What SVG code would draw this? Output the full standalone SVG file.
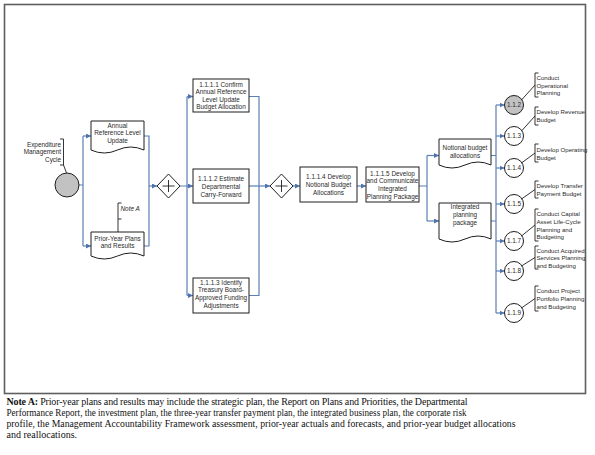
<svg xmlns="http://www.w3.org/2000/svg" width="595" height="455" viewBox="0 0 595 455">
<defs>
<marker id="ah" markerUnits="userSpaceOnUse" markerWidth="6" markerHeight="6" refX="5" refY="2.5" orient="auto">
<path d="M0,0 L5,2.5 L0,5 z" fill="#4f74ad"/>
</marker>
<style>
.t{font-family:"Liberation Sans",Arial,sans-serif;font-size:6.4px;fill:#2a2a2a;text-anchor:middle}
.te{font-family:"Liberation Sans",Arial,sans-serif;font-size:6.4px;fill:#2a2a2a;text-anchor:end}
.ts{font-family:"Liberation Sans",Arial,sans-serif;font-size:6.4px;fill:#2a2a2a;font-style:italic}
.a{font-family:"Liberation Sans",Arial,sans-serif;font-size:6.1px;fill:#2a2a2a}
.n{fill:#fff;stroke:#1e1e1e;stroke-width:1}
.g{fill:#c2c2c2;stroke:#1e1e1e;stroke-width:1}
.c{fill:none;stroke:#5a7fb5;stroke-width:1.2}
.ca{fill:none;stroke:#5a7fb5;stroke-width:1.2;marker-end:url(#ah)}
.b{fill:none;stroke:#1e1e1e;stroke-width:0.9}
.nt{font-family:"Liberation Serif","Times New Roman",serif;font-size:10px;fill:#111}
</style>
</defs>
<rect width="595" height="455" fill="#fff"/>
<rect x="4.5" y="4.5" width="581" height="389" fill="none" stroke="#5e5e5e" stroke-width="1.6"/>

<g id="connectors">
<path class="c" d="M79,185 H83 M83,136 V246"/>
<path class="ca" d="M83,136 H91"/>
<path class="ca" d="M83,246 H91"/>
<path class="c" d="M144,136 H149 V246 H144"/>
<path class="ca" d="M149,186 H157"/>
<path class="c" d="M180,186 H187 M187,96.5 V295.5"/>
<path class="ca" d="M187,96.5 H193"/>
<path class="ca" d="M187,186 H193"/>
<path class="ca" d="M187,295.5 H193"/>
<path class="c" d="M249,96.5 H259 V295.5 H249"/>
<path class="ca" d="M249,186 H270"/>
<path class="ca" d="M293,186 H300"/>
<path class="ca" d="M357,186 H366"/>
<path class="c" d="M419,186 H427 M427,155.5 V221"/>
<path class="ca" d="M427,155.5 H439"/>
<path class="ca" d="M427,221 H439"/>
<path class="c" d="M491,155.5 H496 M491,221 H496 M496,105 V313"/>
<path class="ca" d="M496,105 H504.5"/>
<path class="ca" d="M496,136 H504.5"/>
<path class="ca" d="M496,168 H504.5"/>
<path class="ca" d="M496,204 H504.5"/>
<path class="ca" d="M496,241 H504.5"/>
<path class="ca" d="M496,271 H504.5"/>
<path class="ca" d="M496,313 H504.5"/>
</g>

<g id="start">
<circle class="g" cx="67" cy="185" r="12"/>
<path class="b" d="M60,139 H63.5 V165 H60 M63.5,165 L66.5,173"/>
<text class="te" x="61" y="146.5">Expenditure</text>
<text class="te" x="61" y="154">Management</text>
<text class="te" x="61" y="161.5">Cycle</text>
</g>

<g id="annual">
<path class="n" d="M91,121 H144 V150 Q130.75,144 117.5,150 Q104.25,156 91,150 Z"/>
<text class="t" x="117.5" y="127.5">Annual</text>
<text class="t" x="117.5" y="135.3">Reference Level</text>
<text class="t" x="117.5" y="143">Update</text>
</g>

<g id="prior">
<path class="n" d="M91,232 H144 V256 Q130.75,250 117.5,256 Q104.25,262 91,256 Z"/>
<text class="t" x="117.5" y="240.5">Prior-Year Plans</text>
<text class="t" x="117.5" y="248">and Results</text>
</g>

<g id="noteA">
<path class="b" d="M121.5,203 H118 V219 H121.5 M118,219 V232"/>
<text class="ts" x="120.5" y="210.5">Note A</text>
</g>

<g id="gw1">
<path class="n" d="M157,186 L168.5,174 L180,186 L168.5,198 Z"/>
<path class="b" d="M162.5,186 H174.5 M168.5,180 V192"/>
</g>

<g id="t1111">
<rect class="n" x="193" y="79" width="56" height="33"/>
<text class="t" x="221" y="86.5">1.1.1.1 Confirm</text>
<text class="t" x="221" y="94">Annual Reference</text>
<text class="t" x="221" y="101.5">Level Update</text>
<text class="t" x="221" y="109">Budget Allocation</text>
</g>

<g id="t1112">
<rect class="n" x="193" y="169" width="56" height="34"/>
<text class="t" x="221" y="180.5">1.1.1.2 Estimate</text>
<text class="t" x="221" y="188.5">Departmental</text>
<text class="t" x="221" y="196.5">Carry-Forward</text>
</g>

<g id="t1113">
<rect class="n" x="193" y="278" width="56" height="35"/>
<text class="t" x="221" y="284.5">1.1.1.3 Identify</text>
<text class="t" x="221" y="292">Treasury Board-</text>
<text class="t" x="221" y="299.5">Approved Funding</text>
<text class="t" x="221" y="307.5">Adjustments</text>
</g>

<g id="gw2">
<path class="n" d="M270,186 L281.5,174 L293,186 L281.5,198 Z"/>
<path class="b" d="M275.5,186 H287.5 M281.5,180 V192"/>
</g>

<g id="t1114">
<rect class="n" x="300" y="167" width="57" height="35"/>
<text class="t" x="328.5" y="178.5">1.1.1.4 Develop</text>
<text class="t" x="328.5" y="186.5">Notional Budget</text>
<text class="t" x="328.5" y="194.5">Allocations</text>
</g>

<g id="t1115">
<rect class="n" x="366" y="167" width="53" height="35"/>
<text class="t" x="392.5" y="175.5">1.1.1.5 Develop</text>
<text class="t" x="392.5" y="183">and Communicate</text>
<text class="t" x="392.5" y="190.5">Integrated</text>
<text class="t" x="392.5" y="198.5">Planning Package</text>
</g>

<g id="notional">
<path class="n" d="M439,139 H491 V165 Q478,159 465,165 Q452,171 439,165 Z"/>
<text class="t" x="465" y="149.5">Notional budget</text>
<text class="t" x="465" y="157.5">allocations</text>
</g>

<g id="integrated">
<path class="n" d="M439,203 H491 V239 Q478,233 465,239 Q452,245 439,239 Z"/>
<text class="t" x="465" y="208.5">Integrated</text>
<text class="t" x="465" y="216.5">planning</text>
<text class="t" x="465" y="224.5">package</text>
</g>

<g id="p112">
<circle class="g" cx="514" cy="105" r="9.5"/>
<text class="t" x="514" y="107.3">1.1.2</text>
<path class="b" d="M538.5,73 H535 V97 H538.5 M535,85 L521.5,100"/>
<text class="a" x="536.5" y="79.5">Conduct</text>
<text class="a" x="536.5" y="87.5">Operational</text>
<text class="a" x="536.5" y="95.3">Planning</text>
</g>

<g id="p113">
<circle class="n" cx="514" cy="136" r="9.5"/>
<text class="t" x="514" y="138.3">1.1.3</text>
<path class="b" d="M538.5,107 H535 V125 H538.5 M535,116 L521.5,131"/>
<text class="a" x="536.5" y="114">Develop Revenue</text>
<text class="a" x="536.5" y="121.5">Budget</text>
</g>

<g id="p114">
<circle class="n" cx="514" cy="168" r="9.5"/>
<text class="t" x="514" y="170.3">1.1.4</text>
<path class="b" d="M538.5,144 H535 V162 H538.5 M535,153 L521.5,163"/>
<text class="a" x="536.5" y="151.5">Develop Operating</text>
<text class="a" x="536.5" y="159.5">Budget</text>
</g>

<g id="p115">
<circle class="n" cx="514" cy="204" r="9.5"/>
<text class="t" x="514" y="206.3">1.1.5</text>
<path class="b" d="M538.5,181 H535 V198 H538.5 M535,189.5 L521.5,199"/>
<text class="a" x="536.5" y="187.5">Develop Transfer</text>
<text class="a" x="536.5" y="195.5">Payment Budget</text>
</g>

<g id="p117">
<circle class="n" cx="514" cy="241" r="9.5"/>
<text class="t" x="514" y="243.3">1.1.7</text>
<path class="b" d="M538.5,209 H535 V241 H538.5 M535,225 L521.5,236"/>
<text class="a" x="536.5" y="215.5">Conduct Capital</text>
<text class="a" x="536.5" y="223.5">Asset Life-Cycle</text>
<text class="a" x="536.5" y="231.5">Planning and</text>
<text class="a" x="536.5" y="239">Budgeting</text>
</g>

<g id="p118">
<circle class="n" cx="514" cy="271" r="9.5"/>
<text class="t" x="514" y="273.3">1.1.8</text>
<path class="b" d="M538.5,246 H535 V269 H538.5 M535,257.5 L521.5,266"/>
<text class="a" x="536.5" y="252.5">Conduct Acquired</text>
<text class="a" x="536.5" y="260">Services Planning</text>
<text class="a" x="536.5" y="267.5">and Budgeting</text>
</g>

<g id="p119">
<circle class="n" cx="514" cy="313" r="9.5"/>
<text class="t" x="514" y="315.3">1.1.9</text>
<path class="b" d="M538.5,286 H535 V311 H538.5 M535,298.5 L521.5,308"/>
<text class="a" x="536.5" y="292.5">Conduct Project</text>
<text class="a" x="536.5" y="300.5">Portfolio Planning</text>
<text class="a" x="536.5" y="308.5">and Budgeting</text>
</g>

<g id="note">
<text class="nt" x="6.5" y="405" textLength="461" lengthAdjust="spacing"><tspan font-weight="bold">Note A:</tspan> Prior-year plans and results may include the strategic plan, the Report on Plans and Priorities,  the Departmental</text>
<text class="nt" x="6.5" y="416" textLength="460" lengthAdjust="spacingAndGlyphs">Performance Report, the investment plan, the three-year transfer payment plan, the integrated business plan, the corporate risk</text>
<text class="nt" x="6.5" y="427" textLength="509" lengthAdjust="spacingAndGlyphs">profile, the Management Accountability Framework assessment, prior-year actuals and forecasts, and prior-year budget allocations</text>
<text class="nt" x="6.5" y="437.5">and reallocations.</text>
</g>
</svg>
